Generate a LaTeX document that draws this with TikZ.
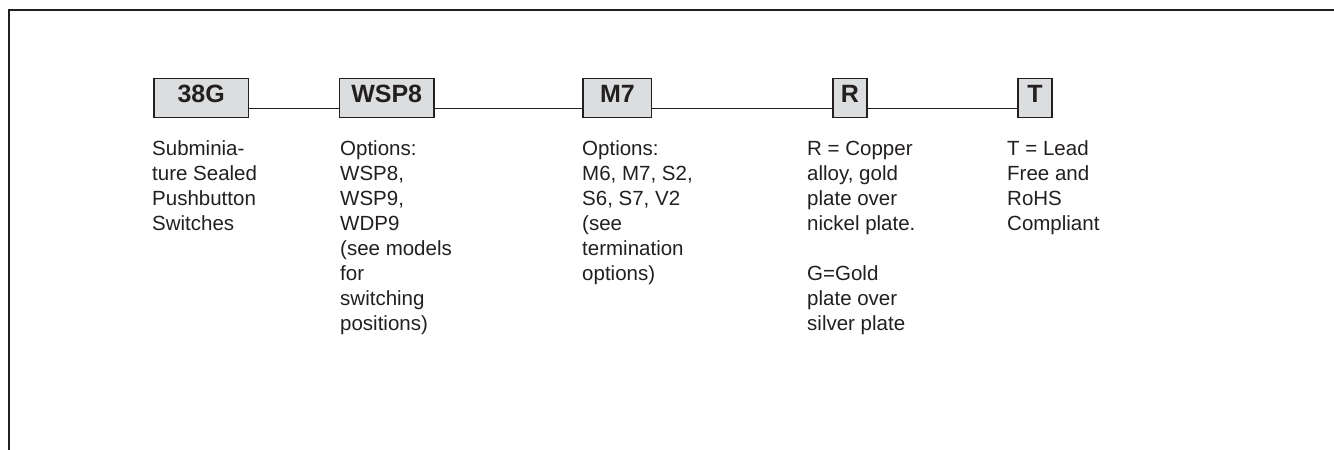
\documentclass[tikz,border=0pt]{standalone}
\usepackage{fontspec}
\setmainfont{Liberation Sans}
\definecolor{ink}{RGB}{35,31,32}
\definecolor{boxfill}{RGB}{220,221,223}
\begin{document}
\begin{tikzpicture}[x=1pt,y=-1pt,
  frameline/.style={draw=ink,line width=2.3pt},
  pbox/.style={draw=ink,fill=boxfill,line width=1.3pt,inner sep=0pt,minimum height=39pt,
    text height=18pt,text depth=9pt,font=\fontsize{25}{30}\selectfont\bfseries,text=ink},
  conn/.style={draw=ink,line width=1.1pt},
  desc/.style={anchor=base west,inner sep=0pt,align=left,text=ink,font=\fontsize{20.5}{25}\selectfont}
]
\useasboundingbox (0,0) rectangle (1334,450);
\draw[frameline] (9,452) -- (9,10) -- (1336,10);

\node[pbox,minimum width=94.3pt] (b1) at (201.2,97.8) {38G};
\node[pbox,minimum width=94.7pt] (b2) at (386.7,97.8) {WSP8};
\node[pbox,minimum width=68.7pt] (b3) at (617.4,97.8) {M7};
\node[pbox,minimum width=34pt] (b4) at (850,97.8) {R};
\node[pbox,minimum width=34pt] (b5) at (1035,97.8) {T};

\draw[conn] ([yshift=-10.5pt]b1.east) -- ([yshift=-10.5pt]b2.west);
\draw[conn] ([yshift=-10.5pt]b2.east) -- ([yshift=-10.5pt]b3.west);
\draw[conn] ([yshift=-10.5pt]b3.east) -- ([yshift=-10.5pt]b4.west);
\draw[conn] ([yshift=-10.5pt]b4.east) -- ([yshift=-10.5pt]b5.west);

% base anchor of a multi-line node is the baseline of its last line
\node[desc] (d1) at (152,230.5) {Subminia-\\ture Sealed\\Pushbutton\\Switches};
\node[desc] (d2) at (340,330.5) {Options:\\WSP8,\\WSP9,\\WDP9\\(see models\\for\\switching\\positions)};
\node[desc] (d3) at (582,280.5) {Options:\\M6, M7, S2,\\S6, S7, V2\\(see\\termination\\options)};
\node[desc] (d4) at (807,330.5) {R = Copper\\alloy, gold\\plate over\\nickel plate.\\[25pt]G=Gold\\plate over\\silver plate};
\node[desc] (d5) at (1007,230.5) {T = Lead\\Free and\\RoHS\\Compliant};
\end{tikzpicture}
\end{document}
